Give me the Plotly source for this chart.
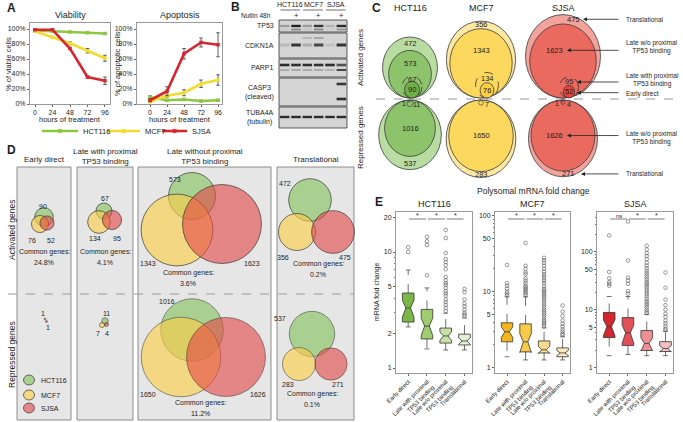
import math
import plotly.graph_objects as go

W, H = 683, 422
FONT = "Liberation Sans, Arial, Helvetica, sans-serif"
TXT = "#1e1e1e"

# ===================== DATA =====================
hours = [0, 24, 48, 72, 96]
viab_hct116 = [98, 97, 96, 95, 94]
viab_hct116_err = [0.5, 0.5, 0.5, 0.5, 0.5]
viab_mcf7 = [97, 89, 81, 71, 61]
viab_mcf7_err = [1, 1, 2, 3, 4]
viab_sjsa = [99, 99, 74, 36, 31]
viab_sjsa_err = [1, 1, 1, 1.5, 5]
apop_hct116 = [9, 5, 6, 4, 5]
apop_hct116_err = [2, 1, 1, 1, 1]
apop_mcf7 = [3, 11, 15, 27, 32]
apop_mcf7_err = [1, 2, 4, 5, 7]
apop_sjsa = [5, 17, 67, 82, 79]
apop_sjsa_err = [2, 6, 7, 6, 16]

cell_lines = ["HCT116", "MCF7", "SJSA"]
blot_proteins = ["TP53", "CDKN1A", "PARP1", "CASP3<br>(cleaved)", "TUBA4A<br>(tubulin)"]
nutlin_treatment = ["", "+", "", "+", "", "+"]

act_early = [90, 76, 52]
act_late_with = [67, 134, 95]
act_late_wo = [573, 1343, 1623]
act_translational = [472, 356, 475]
rep_early = [1, 0, 1]
rep_late_with = [11, 7, 4]
rep_late_wo = [1016, 1650, 1626]
rep_translational = [537, 283, 271]

d_groups = ["Early direct", "Late with proximal<br>TP53 binding",
            "Late without proximal<br>TP53 binding", "Translational"]
common_act = ["24.8%", "4.1%", "3.6%", "0.2%"]
common_rep = [None, None, "11.2%", "0.1%"]

e_categories = ["Early direct", "Late with proximal<br>TP53 binding",
                "Late w/o proximal<br>TP53 binding", "Translational"]
hct_q1 = [2.49, 1.78, 1.64, 1.58]
hct_med = [3.29, 2.30, 1.89, 1.71]
hct_q3 = [4.43, 3.20, 2.21, 1.96]
hct_lo = [2.26, 1.46, 1.43, 1.43]
hct_hi = [7.0, 4.9, 2.97, 2.7]
hct_out = [[10.0, 11.0],
           [6.3, 11.5, 12.4, 13.5],
           [15.5, 13.2, 9.8, 8.7, 8.2, 7.7, 7.1, 6.1, 5.7, 5.4, 5.2, 4.9, 4.6, 4.4, 4.2, 3.9, 3.7, 3.5, 3.3, 3.1],
           [4.8, 4.5, 3.9, 3.6, 3.4, 3.2, 3.0, 2.9, 2.8]]
mcf_q1 = [2.2, 1.62, 1.57, 1.40]
mcf_med = [2.98, 2.2, 1.73, 1.57]
mcf_q3 = [3.91, 3.79, 2.26, 1.83]
mcf_lo = [1.4, 1.27, 1.27, 1.27]
mcf_hi = [8.6, 8.6, 3.36, 2.56]
mcf_out = [[22.6, 13, 12, 11, 10, 9.5, 9],
           [44, 22, 20, 18, 17, 15, 14, 13, 12, 11.5, 11, 10.5, 10, 9.5, 9],
           [28, 26, 24, 22, 20, 18.5, 17, 16, 15, 14, 13, 12, 11, 10.5, 10, 9.5, 9, 8.5, 8, 7.5, 7,
            6.6, 6.2, 5.8, 5.5, 5.2, 4.9, 4.6, 4.3, 4.1, 3.9, 3.7, 3.5],
           [6.6, 5.5, 4.8, 4.2, 3.8, 3.5, 3.2, 3.0, 2.8, 2.7]]
sjsa_q1 = [3.3, 2.4, 1.97, 1.89]
sjsa_med = [5.1, 4.0, 2.6, 2.13]
sjsa_q3 = [8.95, 7.3, 4.36, 2.8]
sjsa_lo = [1.6, 1.68, 1.6, 1.6]
sjsa_hi = [16.9, 16.9, 8.25, 4.2]
sjsa_out = [[192, 45, 35, 30, 28, 26],
            [335, 71, 36, 32, 28, 21, 19],
            [128, 110, 95, 85, 75, 65, 58, 52, 47, 43, 39, 36, 33, 30, 28, 26, 24, 22, 20, 18.5, 17,
             15.5, 14, 13, 12, 11, 10, 9.3, 8.7],
            [44, 24, 15, 12, 10, 8.5, 7.5, 6.5, 5.8, 5.2, 4.7, 4.4]]
e_significance = [["*", "*", "*"], ["*", "*", "*"], ["ns", "*", "*"]]

# ===================== HELPERS =====================
def X(px):
    return px / W


def Y(py):
    return 1 - py / H


shapes = []
ann = []


def text(px, py, s, size=7.5, color=TXT, xanchor="center", yanchor="middle", bold=False, angle=0):
    if bold:
        s = "<b>%s</b>" % s
    ann.append(dict(x=X(px), y=Y(py), xref="paper", yref="paper", text=s, showarrow=False,
                    font=dict(family=FONT, size=size, color=color), xanchor=xanchor,
                    yanchor=yanchor, textangle=angle))


def rect(x0, y0, x1, y1, fill, line="#555", lw=0.8):
    shapes.append(dict(type="rect", xref="paper", yref="paper", x0=X(x0), x1=X(x1),
                       y0=Y(y1), y1=Y(y0), fillcolor=fill,
                       line=dict(color=line, width=lw)))


def circ(cx, cy, r, fill, line="#3c3c3c", lw=0.8, dash="solid", rx=None):
    rx = r if rx is None else rx
    shapes.append(dict(type="circle", xref="paper", yref="paper", x0=X(cx - rx), x1=X(cx + rx),
                       y0=Y(cy + r), y1=Y(cy - r), fillcolor=fill,
                       line=dict(color=line, width=lw, dash=dash)))


def seg(x0, y0, x1, y1, color, width=1, dash="solid"):
    shapes.append(dict(type="line", xref="paper", yref="paper", x0=X(x0), x1=X(x1),
                       y0=Y(y0), y1=Y(y1), line=dict(color=color, width=width, dash=dash)))


def arrow(tip_x, y, tail_x):
    ann.append(dict(x=X(tip_x), y=Y(y), xref="paper", yref="paper",
                    ax=tail_x - tip_x, ay=0, axref="pixel", ayref="pixel",
                    text="", showarrow=True, arrowhead=2,
                    arrowsize=1, arrowwidth=0.8, arrowcolor="#222", standoff=0))


fig = go.Figure()

# ===================== PANEL A =====================
GREEN_L, YELLOW_L, RED_L = "#8dc63f", "#f4dc2e", "#d7262e"
series_a = [
    ("x", "y", viab_hct116, viab_hct116_err, GREEN_L),
    ("x", "y", viab_mcf7, viab_mcf7_err, YELLOW_L),
    ("x", "y", viab_sjsa, viab_sjsa_err, RED_L),
    ("x2", "y2", apop_hct116, apop_hct116_err, GREEN_L),
    ("x2", "y2", apop_mcf7, apop_mcf7_err, YELLOW_L),
    ("x2", "y2", apop_sjsa, apop_sjsa_err, RED_L),
]
for xa, ya, vals, err, col in series_a:
    fig.add_trace(go.Scatter(
        x=hours, y=vals, xaxis=xa, yaxis=ya, mode="lines+markers",
        line=dict(color=col, width=2.6), marker=dict(color=col, size=3.5, symbol="square"),
        error_y=dict(type="data", array=err, color="#3a3a3a", thickness=0.8, width=1.8),
        showlegend=False, hoverinfo="skip"))


def axA(**kw):
    d = dict(showgrid=False, zeroline=False, showline=True, mirror=True, linecolor="#9a9a9a",
             linewidth=1, ticks="outside", ticklen=2, tickcolor="#666",
             tickfont=dict(family=FONT, size=7, color=TXT))
    d.update(kw)
    return d


pct = [0, 20, 40, 60, 80, 100]
layout_axes = dict(
    xaxis=axA(domain=[X(30), X(110)], range=[-6.9, 102.9], tickvals=hours, anchor="y"),
    yaxis=axA(domain=[Y(104), Y(23)], range=[0, 108], tickvals=pct,
              ticktext=["%d%%" % v for v in pct], anchor="x"),
    xaxis2=axA(domain=[X(137), X(222)], range=[-18.4, 101.6], tickvals=hours, anchor="y2"),
    yaxis2=axA(domain=[Y(104), Y(23)], range=[0, 108], tickvals=pct,
               ticktext=["%d%%" % v for v in pct], anchor="x2"),
)
text(5, 8, "A", 12, bold=True, xanchor="left")
text(70, 15, "Viability", 9)
text(180, 15, "Apoptosis", 9)
text(8, 64, "% of viable cells", 7.5, angle=-90)
text(117, 64, "% of apoptotic cells", 7.5, angle=-90)
text(70, 119.5, "hours of treatment", 7.5)
text(180, 119.5, "hours of treatment", 7.5)
leg_a = [(42, 78, GREEN_L, "HCT116"), (107, 140, YELLOW_L, "MCF7"), (162, 187, RED_L, "SJSA")]
for x0, x1, col, name in leg_a:
    seg(x0, 131, x1, 131, col, 2.6)
    rect((x0 + x1) / 2 - 1.7, 129.3, (x0 + x1) / 2 + 1.7, 132.7, col, col, 0.5)
    text(x1 + 3, 131.5, name, 7.5, xanchor="left")

# ===================== PANEL B =====================
text(229, 7, "B", 12, bold=True, xanchor="left")
bx0, bx1 = 279, 347
lane_w = (bx1 - bx0) / 6
lanes = [bx0 + (i + 0.5) * lane_w for i in range(6)]
for i, name in enumerate(cell_lines):
    c = (lanes[2 * i] + lanes[2 * i + 1]) / 2
    text(c, 5, name, 7)
    seg(c - lane_w + 1.5, 10, c + lane_w - 1.5, 10, "#333", 0.7)
text(273, 16, "Nutlin 48h", 6.5, xanchor="right")
for i, s in enumerate(nutlin_treatment):
    if s:
        text(lanes[i], 15.5, s, 7.5)
rows = [(20, 32), (33, 58), (59, 77), (78, 106), (107, 128)]
label_y = [26, 45, 67, 92, 117]
for (y0, y1), ly, name in zip(rows, label_y, blot_proteins):
    rect(bx0, y0, bx1, y1, "#d5d5d5", "#333", 0.8)
    text(276, ly, name, 7, xanchor="right")
bands = [
    (26, 2.4, [0.30, 0.95, 0.30, 0.85, 0.18, 0.90]),
    (29.5, 1.6, [0.08, 0.45, 0.10, 0.45, 0.05, 0.40]),
    (38, 1.6, [0.0, 0.0, 0.20, 0.30, 0.0, 0.0]),
    (45, 3.0, [0.15, 0.85, 0.20, 0.75, 0.10, 0.85]),
    (65, 2.6, [0.90, 0.88, 0.88, 0.88, 0.90, 0.70]),
    (70, 1.8, [0.25, 0.25, 0.25, 0.25, 0.20, 0.85]),
    (84, 2.6, [0.0, 0.0, 0.0, 0.0, 0.0, 0.85]),
    (99, 2.6, [0.0, 0.0, 0.0, 0.0, 0.0, 0.90]),
    (117, 2.4, [0.90, 0.90, 0.90, 0.90, 0.90, 0.90]),
]
for by, bh, intens in bands:
    for i, a in enumerate(intens):
        if a > 0:
            rect(lanes[i] - lane_w * 0.42, by - bh / 2, lanes[i] + lane_w * 0.42, by + bh / 2,
                 "rgba(25,25,25,%.2f)" % a, "rgba(0,0,0,0)", 0)

# ===================== PANEL C =====================
text(370, 8, "C", 12, bold=True, xanchor="left")
cx = [410, 481, 563]
dx = [2, 6, 6]
kC = 0.88
aspC = 0.9
c_light = ["#b8dca2", "#fde8a4", "#f3a39c"]
c_mid = ["#8dc46b", "#fdd85e", "#ea6a5f"]
c_dark = ["#6fb046", "#fbd044", "#e2443a"]
for i, name in enumerate(cell_lines):
    text(cx[i], 8, name, 9)
text(361, 58, "Activated genes", 8, angle=-90)
text(361, 138, "Repressed genes", 8, angle=-90)
seg(376, 99, 682, 99, "#9a9a9a", 1, "dash")

BASE = 98
act_lab = {}
for i in range(3):
    n1 = act_early[i]
    n2 = n1 + act_late_with[i]
    n3 = n2 + act_late_wo[i]
    n4 = n3 + act_translational[i]
    r1, r2, r3, r4 = [kC * math.sqrt(n) for n in (n1, n2, n3, n4)]
    circ(cx[i], BASE - r4, r4, c_light[i], rx=r4 * aspC)
    circ(cx[i], BASE - r3, r3, c_mid[i], rx=r3 * aspC)
    circ(cx[i] + dx[i], BASE - r2, r2, "rgba(0,0,0,0)", "#333", 0.8, "dash", rx=r2 * aspC)
    circ(cx[i] + dx[i], BASE - r1, r1, c_dark[i], rx=r1 * aspC)
    y4 = (BASE - 2 * r4 + BASE - 2 * r3) / 2
    y3 = (BASE - 2 * r3 + BASE - 2 * r2) / 2
    y2 = (BASE - 2 * r2 + BASE - 2 * r1) / 2 + 1
    y1 = BASE - r1
    off = 10 if i == 2 else 0
    off3 = -9 if i == 2 else 0
    text(cx[i] + off, y4, str(act_translational[i]), 7.5)
    text(cx[i] + off3, y3, str(act_late_wo[i]), 7.5)
    text(cx[i] + dx[i], y2, str(act_late_with[i]), 7.5)
    text(cx[i] + dx[i], y1, str(act_early[i]), 7.5)
    act_lab[i] = (y4, y3, y2, y1)

y4, y3, y2, y1 = act_lab[2]
arrow(cx[2] + 20, y4, 620)
arrow(cx[2] + 4, y3, 620)
arrow(cx[2] + dx[2] + 8, y2, 620)
arrow(cx[2] + dx[2] + 8, y1 + 1, 620)
text(624, y4, "Translational", 6.5, xanchor="left")
text(624, y3 - 3, "Late w/o proximal<br>TP53 binding", 6.5, xanchor="left")
text(624, y2 - 1.5, "Late with proximal<br>TP53 binding", 6.5, xanchor="left")
text(624, y1 + 2.5, "Early direct", 6.5, xanchor="left")

TOP = 100
for i in range(3):
    n1 = rep_early[i]
    n2 = n1 + rep_late_with[i]
    n3 = n2 + rep_late_wo[i]
    n4 = n3 + rep_translational[i]
    r1, r2, r3, r4 = [kC * math.sqrt(n) for n in (n1, n2, n3, n4)]
    circ(cx[i], TOP + r4, r4, c_light[i], rx=r4 * aspC)
    circ(cx[i], TOP + r3, r3, c_mid[i], rx=r3 * aspC)
    circ(cx[i], TOP + r2 + 0.5, r2, "rgba(0,0,0,0)", "#333", 0.6)
    if n1 > 0:
        circ(cx[i] - 1, TOP + r1 + 0.5, r1, c_dark[i], "#333", 0.5)
        text(cx[i] - 6, TOP + 3, str(rep_early[i]), 7)
    text(cx[i] + 6, TOP + 5, str(rep_late_with[i]), 7)
    yc = TOP + r3
    yt = (TOP + 2 * r3 + TOP + 2 * r4) / 2
    off3 = -9 if i == 2 else 0
    off4 = 5 if i == 2 else 0
    text(cx[i] + off3, yc, str(rep_late_wo[i]), 7.5)
    text(cx[i] + off4, yt, str(rep_translational[i]), 7.5)
    if i == 2:
        arrow(cx[i] + 4, yc, 620)
        arrow(cx[i] + 18, yt, 620)
        text(624, yc + 2, "Late w/o proximal<br>TP53 binding", 6.5, xanchor="left")
        text(624, yt, "Translational", 6.5, xanchor="left")

# ===================== PANEL D =====================
text(5, 150, "D", 12, bold=True, xanchor="left")
boxes_d = [(17, 71), (77, 133), (138, 271), (277, 354)]
for (x0, x1), title in zip(boxes_d, d_groups):
    rect(x0, 167, x1, 420, "#e6e6e6", "#8c8c8c", 1)
    text((x0 + x1) / 2, 156 if "<br>" in title else 160, title, 8)
text(12, 230, "Activated genes", 8.5, angle=-90)
text(12, 355, "Repressed genes", 8.5, angle=-90)
seg(8, 294, 354, 294, "#9a9a9a", 1, "dash")

kD = 0.98
d_fill = ["rgba(120,190,75,0.55)", "rgba(250,205,70,0.62)", "rgba(228,70,70,0.6)"]
d_line = "rgba(50,50,50,0.85)"
act_sets = [act_early, act_late_with, act_late_wo, act_translational]
rep_sets = [rep_early, rep_late_with, rep_late_wo, rep_translational]
d_act_centers = [[(44, 217), (40, 224), (47, 223)], [(104, 211), (99, 222), (112, 220)],
                 [(192, 196), (177, 230), (222, 224)], [(310, 200), (297, 232), (333, 232)]]
d_rep_centers = [[(45, 319), (44, 321), (46.5, 321.5)], [(105, 321), (102, 325), (106.5, 324.5)],
                 [(192, 330), (181, 357), (226, 357)], [(312, 334), (299, 364), (331, 364)]]
d_act_labels = [[(43, 206), (32, 240), (51, 240)], [(105, 198), (95, 238), (117, 238)],
                [(175, 180), (148, 263), (252, 263)], [(285, 183), (283, 257), (345, 257)]]
d_rep_labels = [[(43, 313), None, (48, 327)], [(106, 313), (98, 333), (107, 333)],
                [(167, 301), (148, 394), (258, 394)], [(280, 318), (288, 384), (338, 384)]]
for g in range(4):
    for i in range(3):
        n = act_sets[g][i]
        (ccx, ccy) = d_act_centers[g][i]
        circ(ccx, ccy, kD * math.sqrt(n), d_fill[i], d_line, 0.8)
        lx, ly = d_act_labels[g][i]
        text(lx, ly, str(n), 7)
        n = rep_sets[g][i]
        if n > 0:
            (ccx, ccy) = d_rep_centers[g][i]
            circ(ccx, ccy, kD * math.sqrt(n), d_fill[i], d_line, 0.6)
        if d_rep_labels[g][i] is not None:
            lx, ly = d_rep_labels[g][i]
            text(lx, ly, str(n), 7)
common_pos_act = [(44, 252), (105, 252), (188, 273), (318, 264)]
common_pos_rep = [None, None, (200, 403), (312, 394)]
for g in range(4):
    x0, y0 = common_pos_act[g]
    text(x0, y0, "Common genes:", 7)
    text(x0, y0 + 10, common_act[g], 7)
    if common_rep[g]:
        x0, y0 = common_pos_rep[g]
        text(x0, y0, "Common genes:", 7)
        text(x0, y0 + 10, common_rep[g], 7)
for i, name in enumerate(cell_lines):
    yy = [380, 395, 408][i]
    shapes.append(dict(type="circle", xref="paper", yref="paper", x0=X(23.5), x1=X(34.5),
                       y0=Y(yy + 5), y1=Y(yy - 5), fillcolor=d_fill[i],
                       line=dict(color=d_line, width=0.8)))
    text(39, yy, name, 7, xanchor="left")

# ===================== PANEL E =====================
text(373, 202, "E", 12, bold=True, xanchor="left")
text(533, 191, "Polysomal mRNA fold change", 8.5)
text(377, 292, "mRNA fold change", 7, angle=-90)
e_panels = [
    ("x3", "y3", (396, 472), [-0.043, 1.345], [1, 2, 5, 10, 20],
     hct_q1, hct_med, hct_q3, hct_lo, hct_hi, hct_out,
     ["#7ab648", "#9fcc6e", "#c5e1a8", "#e2efd3"]),
    ("x4", "y4", (495, 570), [-0.068, 2.05], [1, 5, 10, 50, 100],
     mcf_q1, mcf_med, mcf_q3, mcf_lo, mcf_hi, mcf_out,
     ["#f3b51d", "#f8ca4c", "#fbda8c", "#fde9bd"]),
    ("x5", "y5", (597, 673), [-0.095, 2.69], [1, 5, 10, 50, 100, 500],
     sjsa_q1, sjsa_med, sjsa_q3, sjsa_lo, sjsa_hi, sjsa_out,
     ["#d3262f", "#e24f58", "#ee8f93", "#f6c0c2"]),
]
xr = [-0.65, 3.4]
for p, (xa, ya, (px0, px1), yr, yt, q1, med, q3, lo, hi, outs, cols) in enumerate(e_panels):
    for k in range(4):
        span = (q3[k] - q1[k]) * 0.28
        fig.add_trace(go.Box(
            x=[k], q1=[q1[k]], median=[med[k]], q3=[q3[k]], lowerfence=[q1[k]],
            upperfence=[q3[k]], notched=True, notchspan=[span], notchwidth=0.3, width=0.62,
            fillcolor=cols[k], line=dict(color="#333", width=0.8), whiskerwidth=0,
            boxpoints=False, xaxis=xa, yaxis=ya, showlegend=False, hoverinfo="skip"))
        fig.add_trace(go.Scatter(
            x=[k, k, None, k, k], y=[q3[k], hi[k], None, q1[k], lo[k]], mode="lines",
            line=dict(color="#333", width=0.7, dash="dash"), xaxis=xa, yaxis=ya,
            showlegend=False, hoverinfo="skip"))
        fig.add_trace(go.Scatter(
            x=[k - 0.13, k + 0.13, None, k - 0.13, k + 0.13], y=[hi[k], hi[k], None, lo[k], lo[k]],
            mode="lines", line=dict(color="#333", width=0.7), xaxis=xa, yaxis=ya,
            showlegend=False, hoverinfo="skip"))
        fig.add_trace(go.Scatter(
            x=[k] * len(outs[k]), y=outs[k], mode="markers",
            marker=dict(symbol="circle-open", size=3.6, color="#555", line=dict(width=0.6)),
            xaxis=xa, yaxis=ya, showlegend=False, hoverinfo="skip"))
    num = xa[1:]
    layout_axes["xaxis" + num] = axA(
        domain=[X(px0), X(px1)], range=xr, tickvals=[0, 1, 2, 3], ticktext=e_categories,
        tickangle=-45, anchor="y" + num, tickfont=dict(family=FONT, size=6, color=TXT))
    minor_vals = [v * m for v in (1, 10, 100) for m in range(2, 10)]
    layout_axes["yaxis" + num] = axA(
        domain=[Y(373), Y(212)], type="log", range=yr, tickvals=yt,
        ticktext=[str(v) for v in yt], anchor="x" + num,
        minor=dict(ticks="outside", ticklen=1.5, tickvals=minor_vals, tickcolor="#777"),
        tickfont=dict(family=FONT, size=7, color=TXT))
    text((px0 + px1) / 2, 204.5, cell_lines[p], 9)
    for j, s in enumerate(e_significance[p]):
        shapes.append(dict(type="line", xref=xa, yref="paper", x0=j + 0.05, x1=j + 0.95,
                           y0=Y(219), y1=Y(219), line=dict(color="#444", width=0.7)))
        ann.append(dict(x=j + 0.5, y=Y(215.5), xref=xa, yref="paper", text=s, showarrow=False,
                        font=dict(family=FONT, size=6 if s == "ns" else 7, color=TXT)))

fig.update_layout(
    width=W, height=H, margin=dict(l=0, r=0, t=0, b=0),
    paper_bgcolor="white", plot_bgcolor="white", template="none", showlegend=False,
    shapes=shapes, annotations=ann, font=dict(family=FONT, color=TXT),
    **layout_axes)
fig.write_html(
    "out.html",
    config={"displayModeBar": False, "staticPlot": True},
    post_script="document.body.style.margin='0px';document.body.style.padding='0px';"
                "document.body.style.overflow='hidden';",
)
